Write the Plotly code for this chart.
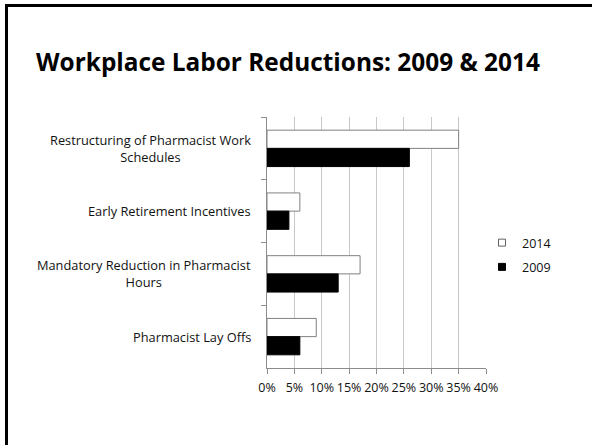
import plotly.graph_objects as go

categories = [
    "Restructuring of Pharmacist Work<br>Schedules",
    "Early Retirement Incentives",
    "Mandatory Reduction in Pharmacist<br>Hours",
    "Pharmacist Lay Offs",
]
series_names = ["2014", "2009"]
values_2014 = [35, 6, 17, 9]
values_2009 = [26, 4, 13, 6]
x_ticks = [0, 5, 10, 15, 20, 25, 30, 35, 40]
title_text = "Workplace Labor Reductions: 2009 & 2014"

W, H = 592, 445
L, R, T, B = 267, 106, 117, 77
PW, PH = W - L - R, H - T - B


def px_x(px):
    return (px - L) / PW


def px_y(py):
    return (H - B - py) / PH


FONT = "Open Sans"
fig = go.Figure()
fig.add_trace(go.Bar(
    name=series_names[0], y=categories, x=values_2014, orientation="h",
    marker=dict(color="white", line=dict(color="#808080", width=1)),
    showlegend=False,
))
fig.add_trace(go.Bar(
    name=series_names[1], y=categories, x=values_2009, orientation="h",
    marker=dict(color="black", line=dict(color="black", width=1)),
    showlegend=False,
))
# legend entries
fig.add_trace(go.Scatter(
    name=series_names[0], x=[None], y=[categories[0]], mode="markers",
    legendgroup="a",
    marker=dict(symbol="square", size=7, color="white", line=dict(color="#606060", width=1)),
))
fig.add_trace(go.Scatter(
    name=series_names[1], x=[None], y=[categories[0]], mode="markers",
    legendgroup="b",
    marker=dict(symbol="square", size=7, color="black", line=dict(color="black", width=1)),
))

for c in categories:
    fig.add_annotation(
        x=px_x(253), xref="paper", xanchor="right",
        y=c, yref="y", yanchor="middle",
        text=c, showarrow=False, align="center",
        font=dict(family=FONT, size=12.8, color="#111111"),
    )

# slide frame: left and top edges only
fig.add_shape(
    type="line", xref="paper", yref="paper",
    x0=px_x(6.5), x1=px_x(6.5), y0=px_y(4), y1=px_y(460),
    line=dict(color="black", width=3), layer="below",
)
fig.add_shape(
    type="line", xref="paper", yref="paper",
    x0=px_x(5), x1=px_x(592), y0=px_y(5.5), y1=px_y(5.5),
    line=dict(color="black", width=3), layer="below",
)

fig.update_layout(
    width=W, height=H,
    margin=dict(l=L, r=R, t=T, b=B),
    paper_bgcolor="white", plot_bgcolor="white",
    barmode="group", bargap=0.42, bargroupgap=0.0,
    title=dict(
        text="<b>" + title_text + "</b>",
        x=36 / W, xanchor="left", xref="container",
        y=1 - 62 / H, yanchor="middle", yref="container",
        font=dict(family=FONT, size=24.4, color="black"),
    ),
    font=dict(family=FONT, size=12, color="#111111"),
    legend=dict(
        x=px_x(482), xanchor="left", y=px_y(228), yanchor="top",
        font=dict(family=FONT, size=12.5, color="#111111"),
        itemwidth=30, bgcolor="rgba(0,0,0,0)",
        traceorder="grouped", tracegroupgap=5,
    ),
    xaxis=dict(
        range=[0, 40], tickvals=x_ticks, ticktext=[f"{v}%" for v in x_ticks],
        showgrid=True, gridcolor="#c8c8c8", gridwidth=1,
        showline=True, linecolor="#8c8c8c", linewidth=1,
        ticks="outside", ticklen=5, tickcolor="#8c8c8c",
        ticklabelstandoff=3,
        zeroline=False, tickfont=dict(family=FONT, size=12.5),
    ),
    yaxis=dict(
        autorange="reversed", showticklabels=False,
        tickson="boundaries", ticks="outside", ticklen=5, tickcolor="#8c8c8c",
        showline=True, linecolor="#8c8c8c", linewidth=1,
        showgrid=False, zeroline=False,
    ),
)

fig.write_html(
    "out.html",
    config={"displayModeBar": False},
    post_script="document.body.style.margin='0';document.body.style.overflow='hidden';",
)
